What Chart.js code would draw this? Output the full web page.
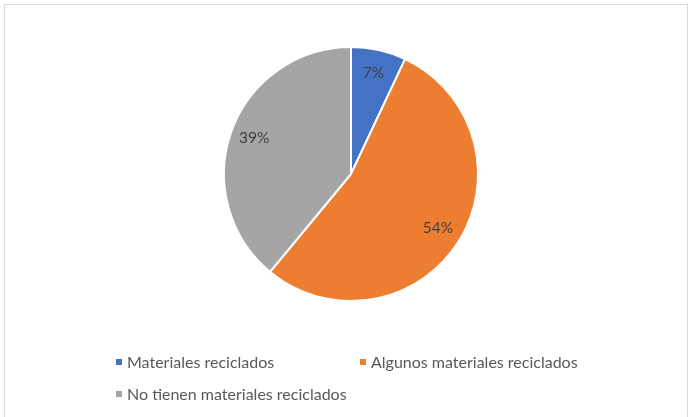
<!DOCTYPE html>
<html>
<head>
<meta charset="utf-8">
<script src="https://cdn.jsdelivr.net/npm/chart.js@4/dist/chart.umd.min.js"></script>
<style>
  html, body { margin: 0; padding: 0; background: #ffffff; }
  body { width: 690px; height: 417px; position: relative; overflow: hidden; font-family: Lato, "Open Sans", sans-serif; }
  .frame { position: absolute; left: 4px; top: 4px; width: 684px; height: 430px; border: 1.5px solid #d9d9d9; box-sizing: border-box; }
  #pie { position: absolute; left: 0; top: 0; }
  .legend-item { position: absolute; color: #595959; font-size: 16px; line-height: 18px; white-space: nowrap; }
  .legend-item span.box { position: absolute; left: -11px; top: 6px; width: 6px; height: 6px; }
</style>
</head>
<body>
<div class="frame"></div>
<canvas id="pie" width="690" height="417"></canvas>
<div id="legend"></div>
<script>
// 類別與數值
const categories = ["Materiales reciclados", "Algunos materiales reciclados", "No tienen materiales reciclados"];
const values = [7, 54, 39];
const sliceColors = ["#4472c4", "#ed7d31", "#a5a5a5"];

// 圖例位置（左側文字起點、列中心）
const legendSpots = [
  { x: 127, y: 353 },
  { x: 371, y: 353 },
  { x: 127, y: 385 },
];

// 百分比標籤
const pctLabels = {
  id: "pctLabels",
  afterDatasetsDraw(chart) {
    const ctx = chart.ctx;
    const total = values.reduce((a, b) => a + b, 0);
    const arcs = chart.getDatasetMeta(0).data;
    ctx.save();
    ctx.font = "15.5px Lato, 'Open Sans', sans-serif";
    ctx.fillStyle = "#404040";
    ctx.textAlign = "center";
    ctx.textBaseline = "middle";
    arcs.forEach((arc, i) => {
      const p = arc.getProps(["x", "y", "startAngle", "endAngle", "outerRadius"], true);
      const mid = (p.startAngle + p.endAngle) / 2;
      const r = p.outerRadius * 0.81;
      const txt = Math.round(values[i] / total * 100) + "%";
      ctx.fillText(txt, p.x + Math.cos(mid) * r, p.y + Math.sin(mid) * r - 1);
    });
    ctx.restore();
  }
};

new Chart(document.getElementById("pie"), {
  type: "pie",
  data: {
    labels: categories,
    datasets: [{
      data: values,
      backgroundColor: sliceColors,
      borderColor: "#ffffff",
      borderWidth: 2,
      hoverOffset: 0,
    }],
  },
  options: {
    responsive: false,
    animation: false,
    radius: 127,
    layout: { padding: { left: 224, right: 212, top: 47, bottom: 116 } },
    plugins: {
      legend: { display: false },
      tooltip: { enabled: false },
    },
  },
  plugins: [pctLabels],
});

// 圖例
const legend = document.getElementById("legend");
categories.forEach((name, i) => {
  const item = document.createElement("div");
  item.className = "legend-item";
  item.style.left = legendSpots[i].x + "px";
  item.style.top = legendSpots[i].y + "px";
  const box = document.createElement("span");
  box.className = "box";
  box.style.background = sliceColors[i];
  item.appendChild(box);
  item.appendChild(document.createTextNode(name));
  legend.appendChild(item);
});
</script>
</body>
</html>
